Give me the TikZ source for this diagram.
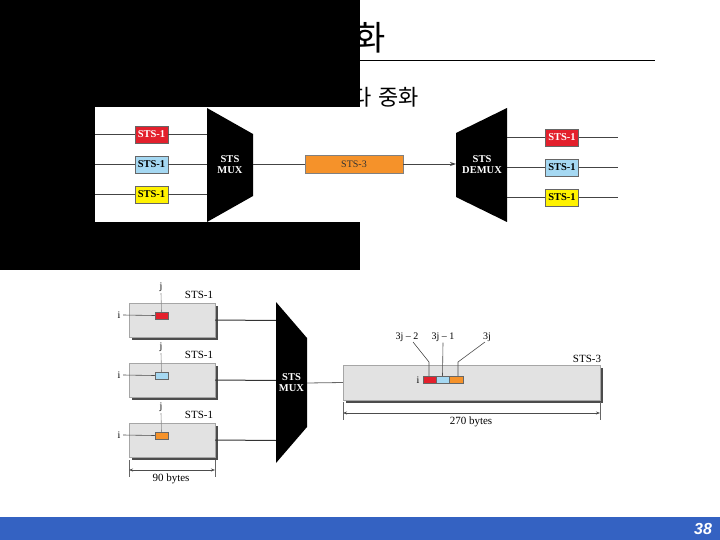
\documentclass[tikz,border=0pt]{standalone}
\usepackage{fontspec}
\setmainfont{Liberation Serif}
\newfontfamily\krfont{Noto Sans CJK KR}
\newfontfamily\pagefont{Liberation Sans}
\usetikzlibrary{arrows.meta,shadows}
\definecolor{stsred}{HTML}{E3202C}
\definecolor{stsblue}{HTML}{A5D8F2}
\definecolor{stsyel}{HTML}{FFF200}
\definecolor{stsor}{HTML}{F5922A}
\definecolor{boxgray}{HTML}{E2E2E2}
\definecolor{barblue}{HTML}{3462C2}
\definecolor{linegray}{HTML}{444444}
\tikzset{
  cbox/.style={draw=black!60, line width=0.5pt, minimum width=33, minimum height=17, inner sep=0pt, font=\fontsize{10.5}{11}\selectfont\bfseries},
  muxtext/.style={text=white, align=center, font=\fontsize{10.5}{11}\selectfont\bfseries},
  wire/.style={draw=linegray, line width=0.9pt},
  thinwire/.style={draw=black!70, line width=0.6pt},
  bigbox/.style={fill=boxgray, draw=black!35, line width=0.4pt, inner sep=0pt,
     drop shadow={shadow xshift=2.5pt, shadow yshift=-2.5pt, fill=black!70, opacity=1}},
  smallbox/.style={draw=black!60, line width=0.5pt, minimum width=13, minimum height=7, inner sep=0pt},
  lbl/.style={font=\fontsize{10}{11}\selectfont, inner sep=0pt},
  dim/.style={draw=black!70, line width=0.6pt, {Stealth[length=4pt,width=3pt]}-{Stealth[length=4pt,width=3pt]}},
  tick/.style={draw=black!60, line width=0.5pt},
}
\begin{document}
\begin{tikzpicture}[x=1pt,y=-1pt]
\useasboundingbox (0,0) rectangle (720,540);
\fill[white] (0,0) rectangle (720,540);
% title
\node[anchor=east, inner sep=0pt, font=\krfont\fontsize{34}{36}\selectfont] (title) at (386,38) {화};
\coordinate (ulA) at (40,60);
\coordinate (ulB) at (655,60);
\draw[line width=0.8pt] (ulA) -- (ulB);
\node[anchor=east, inner sep=0pt, font=\krfont\fontsize{22}{24}\selectfont] (sub) at (419,97) {다\kern7pt 중화};
% black cover
\fill[black] (0,0) rectangle (360,270);
\fill[white] (95,107) rectangle (360,222);

% ---------- top diagram ----------
\fill[black] (207,108) -- (253,134) -- (253,196) -- (207,222) -- cycle;
\node[muxtext] (mux1) at (230,165) {STS\\MUX};
\node[cbox, fill=stsred, text=white] (a1) at (151.5,134.5) {STS-1};
\node[cbox, fill=stsblue] (a2) at (151.5,164.5) {STS-1};
\node[cbox, fill=stsyel] (a3) at (151.5,194.5) {STS-1};
\foreach \k/\y in {1/134.5,2/164.5,3/194.5}{
  \coordinate (in\k) at (95,\y);
  \coordinate (m\k) at (207,\y);
  \draw[wire] (in\k) -- (a\k.west);
  \draw[wire] (a\k.east) -- (m\k);
}
\coordinate (mout) at (253,164);
\node[draw=black!50, line width=0.4pt, fill=stsor, minimum width=98, minimum height=18, inner sep=0pt, text=black!80, font=\fontsize{10}{11}\selectfont] (s3) at (354,164) {STS-3};
\draw[wire] (mout) -- (s3.west);
\fill[black] (456,133) -- (507,108) -- (507,222) -- (456,197) -- cycle;
\node[muxtext] (dmux) at (482,165) {STS\\DEMUX};
\coordinate (din) at (456,164);
\draw[wire, -{Stealth[length=6pt,width=4pt]}] (s3.east) -- (din);
\node[cbox, fill=stsred, text=white] (b1) at (562,137.5) {STS-1};
\node[cbox, fill=stsblue] (b2) at (562,167.5) {STS-1};
\node[cbox, fill=stsyel] (b3) at (562,197.5) {STS-1};
\foreach \k/\y in {1/137.5,2/167.5,3/197.5}{
  \coordinate (d\k) at (507,\y);
  \coordinate (o\k) at (618,\y);
  \draw[wire] (d\k) -- (b\k.west);
  \draw[wire] (b\k.east) -- (o\k);
}

% ---------- bottom diagram ----------
\foreach \k/\y/\c in {1/320/stsred,2/380/stsblue,3/440/stsor}{
  \node[bigbox, minimum width=86, minimum height=34] (f\k) at (172,\y) {};
  \node[smallbox, fill=\c] (c\k) at (161.5,\y-4.5) {};
  \node[lbl] (j\k) at (161,\y-33) {j};
  \node[lbl] (i\k) at (119,\y-5) {i};
  \node[lbl, font=\fontsize{11}{12}\selectfont] (t\k) at (199,\y-25) {STS-1};
  \draw[draw=black!45, line width=0.6pt] (j\k.south) ++(0,1.5) -- (c\k.north);
  \draw[thinwire] (i\k.east) ++(2.5,0) -- (c\k.west);
  \coordinate (n\k) at (276,\y+0.5);
  \draw[draw=black!80, line width=1pt] (f\k.east) -- (n\k);
}
\fill[black] (276,302) -- (307,338) -- (307,427) -- (276,463) -- cycle;
\node[muxtext] (mux2) at (291.5,383) {STS\\MUX};
\coordinate (m2out) at (307,383);
\node[bigbox, minimum width=257, minimum height=35] (big) at (471.5,382.5) {};
\draw[draw=black!60, line width=0.8pt] (m2out) -- (big.west);
\node[lbl, font=\fontsize{11}{12}\selectfont] (t4) at (587,359) {STS-3};
\node[smallbox, fill=stsred, minimum width=13] (e1) at (429.5,379.5) {};
\node[smallbox, fill=stsblue, minimum width=13] (e2) at (442.5,379.5) {};
\node[smallbox, fill=stsor, minimum width=13.5] (e3) at (456,379.5) {};
\node[lbl] (ib) at (418,380) {i};
\node[lbl] (k1) at (407,337) {3j -- 2};
\node[lbl] (k2) at (443,337) {3j -- 1};
\node[lbl] (k3) at (487,337) {3j};
\coordinate (q1) at (429,362);
\coordinate (q3) at (458,362);
\draw[thinwire] (413,342) -- (q1) -- (e1.north -| q1);
\draw[thinwire] (k2.south) ++(0,1) -- (e2.north);
\draw[thinwire] (485,342) -- (q3) -- (e3.north -| q3);

% dimensions
\coordinate (da1) at (129,460); \coordinate (da2) at (129,477);
\coordinate (db1) at (215,460); \coordinate (db2) at (215,477);
\draw[tick] (da1) -- (da2);
\draw[tick] (db1) -- (db2);
\coordinate (dl) at (129,470); \coordinate (dr) at (215,470);
\draw[dim] (dl) -- (dr);
\node[lbl, font=\fontsize{11}{12}\selectfont] (n90) at (171,479) {90 bytes};
\coordinate (ea1) at (343,402); \coordinate (ea2) at (343,420);
\coordinate (eb1) at (600,402); \coordinate (eb2) at (600,420);
\draw[tick] (ea1) -- (ea2);
\draw[tick] (eb1) -- (eb2);
\coordinate (el) at (343,413); \coordinate (er) at (600,413);
\draw[dim] (el) -- (er);
\node[lbl, font=\fontsize{11}{12}\selectfont] (n270) at (471,422) {270 bytes};

% footer
\fill[barblue] (0,517) rectangle (720,540);
\node[text=white, font=\pagefont\fontsize{16}{18}\selectfont\bfseries\itshape, inner sep=0pt] (pg) at (703,529) {38};
\end{tikzpicture}
\end{document}
